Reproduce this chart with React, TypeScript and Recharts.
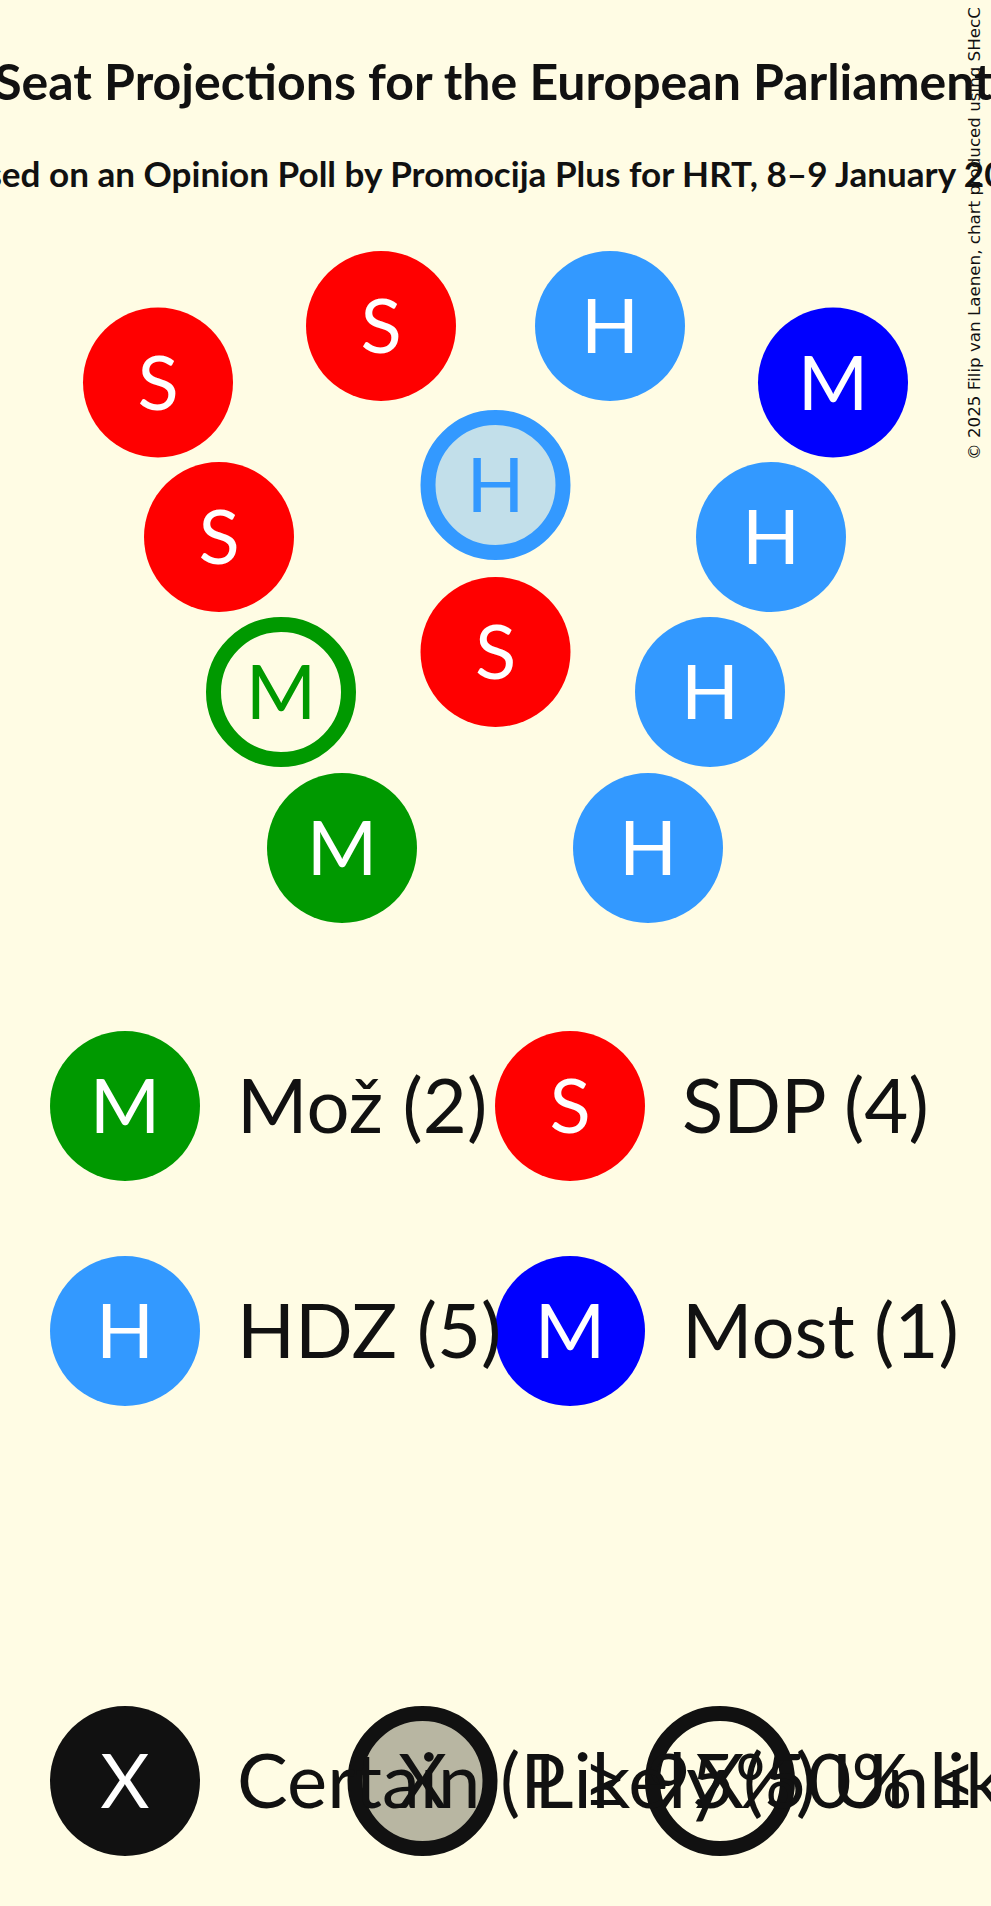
import React from "react";
import { ScatterChart, Scatter, XAxis, YAxis } from "recharts";

// seat map data (in page pixels)
const seatParty = ["SDP", "SDP", "HDZ", "Most", "SDP", "HDZ", "HDZ", "Mož", "SDP", "HDZ", "Mož", "HDZ"];
const seatX = [158, 381, 610, 833, 219, 495.5, 771, 281, 495.5, 710, 342, 648];
const seatY = [382.5, 326, 326, 382.5, 537, 485, 537, 692, 652, 692, 848, 848];
const seatCertain = [true, true, true, true, true, false, true, false, true, true, true, true];

const parties = ["Mož", "SDP", "HDZ", "Most"];
const partyLetter = ["M", "S", "H", "M"];
const partySeats = [2, 4, 5, 1];
const partyColor = ["#009900", "#FF0000", "#3399FF", "#0000FF"];

const statusLabels = ["Certain (P ≥ 95%)", "Likely (50% ≤ P < 95%)", "Unlikely (P < 50%)"];

const W = 991;
const H = 1906;
const BG = "#FFFCE4";
const INK = "#111111";
const R = 75;
const FONT = "Lato, 'DejaVu Sans', sans-serif";
const LABEL_DX = 112;

if (typeof document !== "undefined") {
  document.body.style.margin = "0";
  document.body.style.background = BG;
}

const seatData = seatParty.map((p, i) => {
  const k = parties.indexOf(p);
  return { x: seatX[i], y: seatY[i], letter: partyLetter[k], color: partyColor[k], certain: seatCertain[i] };
});

const partyLegend = parties.map((p, i) => ({
  x: i % 2 === 0 ? 125 : 570,
  y: 1106 + Math.floor(i / 2) * 225,
  letter: partyLetter[i],
  color: partyColor[i],
  certain: true,
  label: `${p} (${partySeats[i]})`,
}));

const statusLegend = statusLabels.map((label, i) => ({
  x: 125 + i * 297.5,
  y: 1781,
  letter: "X",
  color: INK,
  certain: i === 0,
  inner: i === 1 ? "#B8B6A2" : BG,
  label,
}));

const Letter = ({ x, y, fill, children }: any) => (
  <text x={x} y={y + 27} textAnchor="middle" fontFamily={FONT} fontSize={76} fill={fill}>
    {children}
  </text>
);

const MarkShape = (props: any) => {
  const { cx, cy, payload } = props;
  if (payload.certain) {
    return (
      <g>
        <circle cx={cx} cy={cy} r={R} fill={payload.color} />
        <Letter x={cx} y={cy} fill="#FFFFFF">{payload.letter}</Letter>
      </g>
    );
  }
  const inner = payload.inner ?? (payload.color === "#3399FF" ? "#C2DFEA" : BG);
  return (
    <g>
      <circle cx={cx} cy={cy} r={R - 7.5} fill={inner} stroke={payload.color} strokeWidth={15} />
      <Letter x={cx} y={cy} fill={payload.color}>{payload.letter}</Letter>
    </g>
  );
};

const LabelShape = (props: any) => {
  const { cx, cy, payload } = props;
  return (
    <text x={cx + LABEL_DX} y={cy + 27} fontFamily={FONT} fontSize={76} fill={INK}>
      {payload.label}
    </text>
  );
};

export default function App() {
  return (
    <div style={{ width: W, height: H, background: BG, overflow: "hidden" }}>
      <ScatterChart width={W} height={H} margin={{ top: 0, right: 0, bottom: 0, left: 0 }}>
        <rect x={0} y={0} width={W} height={H} fill={BG} />
        <XAxis type="number" dataKey="x" domain={[0, W]} hide />
        <YAxis type="number" dataKey="y" domain={[0, H]} reversed hide />
        <text x={W / 2 - 2} y={100} textAnchor="middle" fontFamily={FONT} fontWeight={700} fontSize={50} fill={INK}>
          Seat Projections for the European Parliament
        </text>
        <text x={W / 2} y={187} textAnchor="middle" fontFamily={FONT} fontWeight={700} fontSize={35.1} fill={INK}>
          Based on an Opinion Poll by Promocija Plus for HRT, 8–9 January 2025
        </text>
        <Scatter data={seatData} shape={MarkShape} isAnimationActive={false} />
        <Scatter data={partyLegend} shape={MarkShape} isAnimationActive={false} />
        <Scatter data={statusLegend} shape={MarkShape} isAnimationActive={false} />
        <Scatter data={partyLegend} shape={LabelShape} isAnimationActive={false} />
        <Scatter data={statusLegend} shape={LabelShape} isAnimationActive={false} />
        <text transform="rotate(-90)" x={-460} y={980} fontFamily="'DejaVu Sans', sans-serif" fontSize={16.7} fill={INK}>
          © 2025 Filip van Laenen, chart produced using SHecC
        </text>
      </ScatterChart>
    </div>
  );
}
